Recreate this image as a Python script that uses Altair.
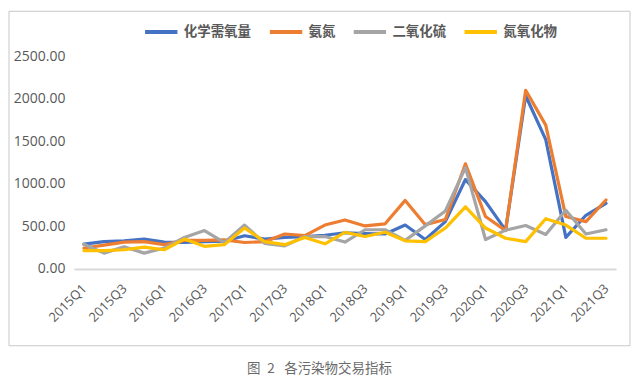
import altair as alt
import pandas as pd

quarters = [f"{y}Q{q}" for y in range(2015, 2022) for q in range(1, 5)][:27]
series_names = ["化学需氧量", "氨氮", "二氧化硫", "氮氧化物"]
colors = ["#4472C4", "#ED7D31", "#A5A5A5", "#FFC000"]

cod = [290, 320, 330, 350, 315, 310, 320, 325, 390, 350, 370, 380, 395, 425, 415, 410,
       515, 345, 555, 1050, 790, 455, 2035, 1520, 370, 630, 770]
nh3 = [245, 280, 315, 320, 285, 335, 335, 340, 310, 320, 410, 390, 515, 575, 505, 530,
       805, 520, 580, 1235, 615, 450, 2100, 1690, 615, 555, 810]
so2 = [290, 185, 260, 185, 245, 370, 450, 310, 515, 300, 270, 380, 380, 315, 460, 460,
       335, 505, 680, 1190, 345, 455, 510, 405, 690, 410, 460]
nox = [215, 215, 225, 255, 225, 350, 265, 285, 480, 320, 285, 370, 295, 430, 380, 430,
       330, 320, 480, 730, 480, 360, 320, 590, 515, 360, 360]
y_ticks = [0, 500, 1000, 1500, 2000, 2500]
x_label_values = quarters[::2]
caption = "图\u20022\u2002\u2009各污染物交易指标"

rows = []
for name, vals in zip(series_names, [cod, nh3, so2, nox]):
    for q, v in zip(quarters, vals):
        rows.append({"quarter": q, "series": name, "value": v, "k": series_names.index(name)})
df = pd.DataFrame(rows)

W, H = 543, 213
PL, PT = 66, 48

lines = alt.Chart(df).mark_line(strokeWidth=3.2, strokeJoin="round", strokeCap="round").encode(
    x=alt.X("quarter:O", sort=quarters,
            scale=alt.Scale(type="point", padding=0.5),
            axis=alt.Axis(title=None, values=x_label_values, labelAngle=-45,
                          labelFont="Open Sans", labelFontSize=13, labelColor="#595959",
                          ticks=False, domainColor="#d9d9d9", domainWidth=2,
                          labelPadding=13, labelOffset=-4, grid=False)),
    y=alt.Y("value:Q", scale=alt.Scale(domain=[0, 2500], nice=False),
            axis=alt.Axis(title=None, values=y_ticks, format=".2f", grid=False,
                          domain=False, ticks=False, labelFont="Open Sans",
                          labelFontSize=14, labelColor="#595959", labelPadding=9)),
    color=alt.Color("series:N", sort=series_names,
                    scale=alt.Scale(domain=series_names, range=colors),
                    legend=alt.Legend(title=None, orient="none", direction="horizontal",
                                      legendX=69, legendY=-43, symbolType="stroke",
                                      symbolSize=1050, symbolStrokeWidth=4,
                                      labelFont="Noto Sans CJK SC", labelFontWeight="bold",
                                      labelFontSize=13.5, labelColor="#595959",
                                      labelOffset=4, columnPadding=10, padding=0)),
    order=alt.Order("k:Q"),
    detail="series:N",
)

frame = alt.Chart(pd.DataFrame({"a": [0]})).mark_rect(
    fillOpacity=0, stroke="#c8c8c8", strokeWidth=1
).encode(x=alt.value(-PL + 1), x2=alt.value(W + 14), y=alt.value(-PT + 3), y2=alt.value(290))

cap = alt.Chart(pd.DataFrame({"t": [caption]})).mark_text(
    font="Noto Sans CJK SC", fontSize=13.5, color="#6b6b6b", align="center", baseline="middle"
).encode(text="t:N", x=alt.value(320 - 74), y=alt.value(369 - 56))

chart = alt.layer(frame, lines, cap).properties(
    width=W, height=H,
    padding={"left": PL, "top": PT, "right": 16, "bottom": 108},
    autosize=alt.AutoSizeParams(type="none"),
).configure_view(stroke=None)

chart.save("out.html", embed_options={"renderer": "svg", "actions": False})
